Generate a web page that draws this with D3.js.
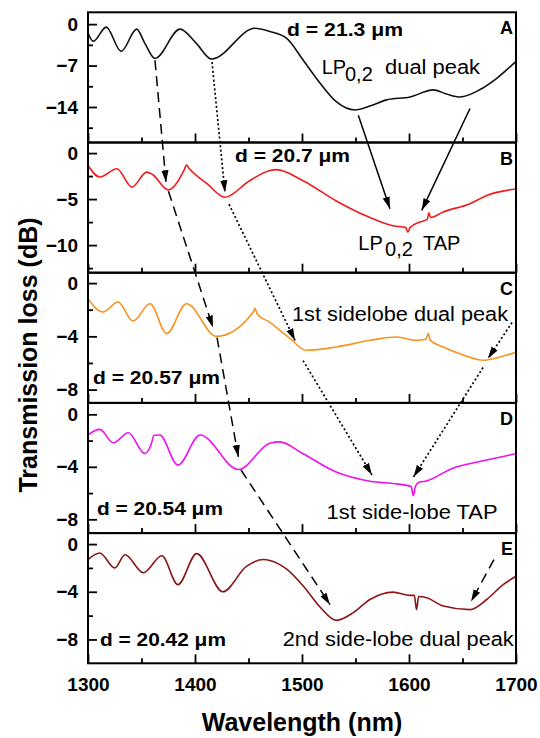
<!DOCTYPE html>
<html>
<head>
<meta charset="utf-8">
<script src="https://cdn.jsdelivr.net/npm/d3@7"></script>
<style>
  body { margin: 0; background: #fff; }
  svg { display: block; font-family: Arial, "Liberation Sans", sans-serif; }
</style>
</head>
<body>
<div id="chart"></div>
<script>
// ── Data ──
const panelIds = ["A", "B", "C", "D", "E"];
const waveTicks = [1300, 1400, 1500, 1600, 1700];
const waveMinor = [1350, 1450, 1550, 1650];

const wlA   = [1300, 1305, 1317, 1331, 1345.5, 1353, 1362.6, 1386, 1401, 1415.6, 1456, 1470, 1485.7, 1501, 1517, 1532, 1549.5, 1563.5, 1579, 1601, 1622.6, 1635, 1647.7, 1666, 1682, 1700];
const lossA = [-1.5, -2.9, -0.5, -4.6, -0.85, -3.2, -5.8, -0.85, -3.2, -5.9, -0.7, -1.25, -2.4, -6.05, -10, -13.1, -14.5, -13.85, -12.8, -12.3, -11.1, -11.8, -12.3, -11.1, -9.15, -6.3];

const wlB   = [1300, 1311, 1327, 1341, 1355, 1360, 1375, 1390, 1392, 1394, 1411, 1428, 1451, 1470, 1476, 1501, 1532, 1563.5, 1585, 1597, 1599, 1601, 1610, 1617, 1618.7, 1620, 1632, 1657, 1672.6, 1700];
const lossB = [-1.35, -2.6, -1.7, -3.7, -2.07, -2.3, -4.0, -1.8, -1.3, -1.6, -3.3, -4.8, -3.0, -1.9, -1.8, -3.0, -5.2, -7.0, -7.9, -8.1, -8.6, -8.1, -7.5, -7.2, -6.5, -7.0, -6.4, -5.5, -4.6, -3.9];

const wlC   = [1300, 1314, 1328, 1342, 1358, 1373.5, 1392, 1420, 1454.5, 1456, 1458, 1470, 1489, 1504, 1532, 1563.5, 1588.5, 1607, 1616, 1618, 1620, 1632, 1650.7, 1669, 1685, 1700];
const lossC = [-1.17, -2.17, -1.42, -2.85, -1.55, -3.8, -1.55, -4.0, -2.17, -1.9, -2.3, -2.95, -4.17, -5.05, -4.8, -4.3, -4.05, -4.3, -4.2, -3.8, -4.3, -4.8, -5.4, -5.8, -5.55, -5.2];

const wlD   = [1300, 1311, 1323.7, 1337.7, 1353, 1359, 1361.7, 1367, 1384, 1404.7, 1440.5, 1470, 1479, 1501, 1532, 1563.5, 1588.5, 1602, 1604, 1606, 1610, 1615, 1641, 1666, 1700];
const lossD = [-1.58, -1.15, -2.17, -1.4, -2.98, -2.3, -1.6, -1.58, -3.87, -1.58, -4.2, -2.2, -2.1, -3.0, -4.4, -5.1, -5.3, -5.5, -6.2, -5.5, -5.15, -5.1, -4.1, -3.6, -3.0];

const wlE   = [1300, 1311, 1325, 1334.6, 1351.7, 1369, 1384, 1401.6, 1426, 1448, 1464, 1470, 1485.7, 1501, 1517, 1532, 1548, 1563.5, 1585, 1601, 1605, 1607, 1609, 1616.5, 1632, 1657, 1672.6, 1688, 1700];
const lossE = [-1.3, -0.75, -2.0, -0.9, -2.4, -0.98, -3.4, -0.8, -4.0, -1.87, -1.3, -1.37, -2.1, -3.5, -5.3, -6.4, -5.75, -4.65, -4.03, -4.3, -4.3, -5.5, -4.4, -4.5, -5.2, -5.5, -4.65, -3.4, -2.7];

const ticksA = [0, -7, -14],  minorA = [-3.5, -10.5, -17.5];
const ticksB = [0, -5, -10],  minorB = [-2.5, -7.5, -12.5];
const ticksC = [0, -4, -8],   minorC = [-2, -6];
const ticksD = [0, -4, -8],   minorD = [-2, -6];
const ticksE = [0, -4, -8],   minorE = [-2, -6];

const thickness = ["d = 21.3 μm", "d = 20.7 μm", "d = 20.57 μm", "d = 20.54 μm", "d = 20.42 μm"];

// ── Layout ──
const W = 540, H = 738;
const left = 88, right = 516, top0 = 12.3, ph = 130.2;
const colors = ["#111111", "#ee1c1c", "#f7931e", "#ee11ee", "#8b1616"];
const domains = [[-20, 2], [-13, 1.15], [-9, 0.78], [-9.05, 0.87], [-10, 0.92]];

const panels = panelIds.map((id, i) => ({
  id,
  wl: [wlA, wlB, wlC, wlD, wlE][i],
  loss: [lossA, lossB, lossC, lossD, lossE][i],
  ticks: [ticksA, ticksB, ticksC, ticksD, ticksE][i],
  minor: [minorA, minorB, minorC, minorD, minorE][i],
  color: colors[i],
  top: top0 + i * ph
}));

const x = d3.scaleLinear().domain([1300, 1700]).range([left, right]);
panels.forEach((p, i) => {
  p.y = d3.scaleLinear().domain(domains[i]).range([p.top + ph, p.top]);
});
const byId = Object.fromEntries(panels.map(p => [p.id, p]));

const svg = d3.select("#chart").append("svg")
  .attr("width", W).attr("height", H);

const defs = svg.append("defs");
defs.append("marker")
  .attr("id", "head")
  .attr("viewBox", "0 -4 12 8")
  .attr("markerUnits", "userSpaceOnUse")
  .attr("markerWidth", 12).attr("markerHeight", 8)
  .attr("refX", 12).attr("refY", 0)
  .attr("orient", "auto")
  .append("path")
  .attr("d", "M0,-3.6L12,0L0,3.6Z")
  .attr("fill", "#000");

// ── Panels ──
panels.forEach((p, i) => {
  const g = svg.append("g");

  defs.append("clipPath").attr("id", "clip" + p.id)
    .append("rect")
    .attr("x", left).attr("y", p.top)
    .attr("width", right - left).attr("height", ph);

  // curve
  const pts = p.wl.map((w, k) => [w, p.loss[k]]);
  g.append("path")
    .attr("clip-path", `url(#clip${p.id})`)
    .attr("d", d3.line().x(d => x(d[0])).y(d => p.y(d[1])).curve(d3.curveMonotoneX)(pts))
    .attr("fill", "none")
    .attr("stroke", p.color)
    .attr("stroke-width", 1.6)
    .attr("stroke-linejoin", "round");

  // y axis (inward ticks)
  const ya = g.append("g").attr("transform", `translate(${left},0)`)
    .call(d3.axisLeft(p.y).tickValues(p.ticks).tickSizeInner(-9).tickSizeOuter(0).tickPadding(10).tickFormat(d3.format("d")));
  const ym = g.append("g").attr("transform", `translate(${left},0)`)
    .call(d3.axisLeft(p.y).tickValues(p.minor).tickSizeInner(-5).tickSizeOuter(0).tickFormat(""));

  // x axis (inward ticks at bottom of each panel)
  const xa = g.append("g").attr("transform", `translate(0,${p.top + ph})`)
    .call(d3.axisBottom(x).tickValues(waveTicks).tickSizeInner(-9).tickSizeOuter(0).tickPadding(14)
      .tickFormat(i === panels.length - 1 ? d3.format("d") : ""));
  const xm = g.append("g").attr("transform", `translate(0,${p.top + ph})`)
    .call(d3.axisBottom(x).tickValues(waveMinor).tickSizeInner(-5).tickSizeOuter(0).tickFormat(""));

  [ya, ym, xa, xm].forEach(a => {
    a.select(".domain").remove();
    a.selectAll(".tick line").attr("stroke", "#000").attr("stroke-width", 1.8);
    a.selectAll(".tick text")
      .attr("fill", "#000")
      .attr("font-size", "19px")
      .attr("font-weight", "bold")
      .attr("font-family", "Arial, 'Liberation Sans', sans-serif");
  });

  // frame
  g.append("rect")
    .attr("x", left).attr("y", p.top)
    .attr("width", right - left).attr("height", ph)
    .attr("fill", "none").attr("stroke", "#000").attr("stroke-width", 2);

  // panel letter
  g.append("text")
    .attr("x", right - 3).attr("y", p.top + 22)
    .attr("text-anchor", "end")
    .attr("font-size", "18px").attr("font-weight", "bold")
    .text(p.id);
});

// ── Annotation text: [panel, wavelength, dB at baseline, text, width, bold, size] ──
const labels = [
  ["A", 1486,   -1.93, thickness[0], 116, true, 18],
  ["B", 1437.4, -0.94, thickness[1], 115, true, 18],
  ["C", 1304.7, -7.57, thickness[2], 127, true, 18],
  ["D", 1308.4, -7.67, thickness[3], 126, true, 18],
  ["E", 1311.2, -8.59, thickness[4], 126, true, 18],
  ["A", 1518.4, -8.44, "LP", null, false, 20],
  ["A", 1540.2, -9.54, "0,2", null, false, 20],
  ["A", 1577.6, -8.44, "dual peak", 95, false, 20],
  ["B", 1552.6, -10.49, "LP", null, false, 20],
  ["B", 1577.6, -11.22, "0,2", null, false, 20],
  ["B", 1613.1, -10.49, "TAP", null, false, 20],
  ["C", 1490.7, -2.88, "1st sidelobe dual peak", 216, false, 20],
  ["D", 1523,   -8.0,  "1st side-lobe TAP", 171, false, 20],
  ["E", 1482,   -8.56, "2nd side-lobe dual peak", 231, false, 20]
];

labels.forEach(([pid, w, db, txt, len, bold, size]) => {
  const t = svg.append("text")
    .attr("x", x(w)).attr("y", byId[pid].y(db))
    .attr("font-size", size + "px")
    .attr("font-weight", bold ? "bold" : "normal")
    .attr("fill", "#000")
    .text(txt);
  if (len) t.attr("textLength", len).attr("lengthAdjust", "spacingAndGlyphs");
});

// ── Arrows: [style, fromPanel, λ, dB, toPanel, λ, dB] ──
const arrows = [
  ["dash", "A", 1362.6, -6.1,  "B", 1372.9, -3.17],
  ["dash", "B", 1375.2, -4.15, "C", 1416.8, -3.33],
  ["dash", "C", 1420.6, -4.09, "D", 1440.5, -3.25],
  ["dash", "D", 1443,   -4.24, "E", 1526.2, -5.08],
  ["dash", "E", 1679.4, -1.31, "E", 1658,   -4.82],
  ["dot",  "A", 1415.9, -6.41, "B", 1428,   -4.26],
  ["dot",  "B", 1431.8, -5.56, "C", 1493.5, -4.31],
  ["dot",  "C", 1501,   -5.82, "D", 1565.4, -4.62],
  ["dot",  "C", 1696.3, -2.96, "C", 1673.8, -5.67],
  ["dot",  "C", 1669.2, -6.34, "D", 1604.2, -4.77],
  ["solid","A", 1552.6, -15.38,"B", 1582.2, -6.05],
  ["solid","A", 1657,   -14.25,"B", 1611.9, -6.22]
];
const dashes = { dash: "10,6", dot: "2,2.4", solid: null };

arrows.forEach(([st, pa, wa, da, pb, wb, dbb]) => {
  svg.append("line")
    .attr("x1", x(wa)).attr("y1", byId[pa].y(da))
    .attr("x2", x(wb)).attr("y2", byId[pb].y(dbb))
    .attr("stroke", "#000")
    .attr("stroke-width", st === "dot" ? 1.7 : 1.5)
    .attr("stroke-dasharray", dashes[st])
    .attr("marker-end", "url(#head)");
});

// ── Axis titles ──
svg.append("text")
  .attr("x", (left + right) / 2).attr("y", 731)
  .attr("text-anchor", "middle")
  .attr("font-size", "25px").attr("font-weight", "bold")
  .text("Wavelength (nm)");

svg.append("text")
  .attr("transform", "translate(37,355) rotate(-90)")
  .attr("text-anchor", "middle")
  .attr("font-size", "25px").attr("font-weight", "bold")
  .text("Transmission loss (dB)");
</script>
</body>
</html>
